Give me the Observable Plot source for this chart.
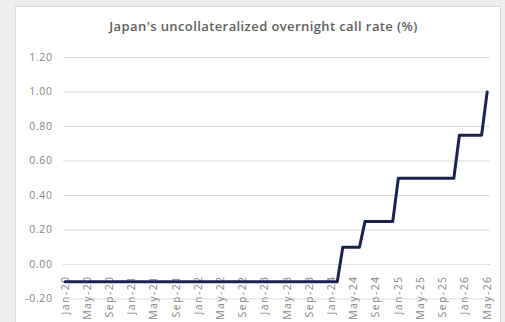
<!DOCTYPE html>
<html>
<head>
<meta charset="utf-8">
<script src="https://cdn.jsdelivr.net/npm/d3@7"></script>
<script src="https://cdn.jsdelivr.net/npm/@observablehq/plot@0.6"></script>
<style>
  html, body { margin: 0; padding: 0; }
  body { width: 505px; height: 322px; overflow: hidden; position: relative; background: #eeeeee; font-family: "Open Sans", sans-serif; }
  #panel { position: absolute; left: 15px; top: 6px; width: 484px; height: 330px; background: #fff; border: 1px solid #dadada; z-index: 1; }
  #title { position: absolute; left: 0; width: 527px; top: 17px; text-align: center; font: 600 13px "Open Sans", sans-serif; letter-spacing: 0.4px; color: #5f5f5f; z-index: 3; }
  #chart { position: absolute; left: 0; top: 0; z-index: 2; }
  #chart .xlab text { letter-spacing: 1.4px; }
  #chart .ylab text { letter-spacing: 0.6px; }
</style>
</head>
<body>
<div id="panel"></div>
<div id="title">Japan's uncollateralized overnight call rate (%)</div>
<div id="chart"></div>
<script>
// Monthly categories Jan-20 .. May-26
const months = d3.utcMonth.range(new Date(Date.UTC(2020, 0, 1)), new Date(Date.UTC(2026, 5, 1)));
const fmt = d3.utcFormat("%b-%y");
const monthLabels = months.map(fmt);

// Call rate (%), one value per month
const rate = [
  -0.1, -0.1, -0.1, -0.1, -0.1, -0.1, -0.1, -0.1, -0.1, -0.1, -0.1, -0.1, // 2020
  -0.1, -0.1, -0.1, -0.1, -0.1, -0.1, -0.1, -0.1, -0.1, -0.1, -0.1, -0.1, // 2021
  -0.1, -0.1, -0.1, -0.1, -0.1, -0.1, -0.1, -0.1, -0.1, -0.1, -0.1, -0.1, // 2022
  -0.1, -0.1, -0.1, -0.1, -0.1, -0.1, -0.1, -0.1, -0.1, -0.1, -0.1, -0.1, // 2023
  -0.1, -0.1, 0.1, 0.1, 0.1, 0.1, 0.25, 0.25, 0.25, 0.25, 0.25, 0.25,     // 2024
  0.5, 0.5, 0.5, 0.5, 0.5, 0.5, 0.5, 0.5, 0.5, 0.5, 0.5, 0.75,            // 2025
  0.75, 0.75, 0.75, 0.75, 1.0                                             // 2026
];

const tickLabels = ["Jan-20","May-20","Sep-20","Jan-21","May-21","Sep-21","Jan-22","May-22","Sep-22","Jan-23","May-23","Sep-23","Jan-24","May-24","Sep-24","Jan-25","May-25","Sep-25","Jan-26","May-26"];
const yTicks = [-0.2, 0, 0.2, 0.4, 0.6, 0.8, 1.0, 1.2];

const data = rate.map((v, i) => ({i, label: monthLabels[i], v}));
const tickData = tickLabels.map(t => ({i: monthLabels.indexOf(t), t}));

const chart = Plot.plot({
  width: 505,
  height: 322,
  marginLeft: 63,
  marginRight: 15,
  marginTop: 57,
  marginBottom: 23.5,
  style: {background: "transparent", fontFamily: "Open Sans, sans-serif"},
  x: {type: "linear", domain: [-0.3, 76.6], axis: null},
  y: {domain: [-0.2, 1.2], axis: null},
  marks: [
    Plot.ruleY(yTicks.filter(d => d !== 0), {stroke: "#dcdcdc", strokeWidth: 1}),
    Plot.ruleY([0], {stroke: "#d4d4d4", strokeWidth: 1, strokeDasharray: "3,1"}),
    Plot.axisY(yTicks, {tickSize: 0, tickPadding: 11, label: null, tickFormat: d => d.toFixed(2), fontSize: 10.5, fill: "#858585", className: "ylab"}),
    Plot.text(tickData, {x: "i", y: 0, text: "t", rotate: -90, textAnchor: "end", dy: 11, fontSize: 10.5, fill: "#858585", className: "xlab"}),
    Plot.line(data, {x: "i", y: "v", stroke: "#1a2250", strokeWidth: 3})
  ]
});
document.getElementById("chart").append(chart);
</script>
</body>
</html>
